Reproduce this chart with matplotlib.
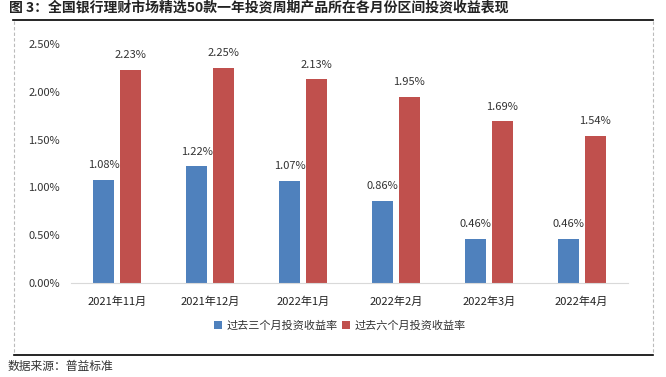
import matplotlib.pyplot as plt
import numpy as np

plt.rcParams['font.family'] = ['Noto Sans CJK SC', 'DejaVu Sans']

# data
months = ['2021年11月', '2021年12月', '2022年1月', '2022年2月', '2022年3月', '2022年4月']
three_month = [1.08, 1.22, 1.07, 0.86, 0.46, 0.46]
six_month = [2.23, 2.25, 2.13, 1.95, 1.69, 1.54]
series_names = ['过去三个月投资收益率', '过去六个月投资收益率']
yticks = [0, 0.5, 1.0, 1.5, 2.0, 2.5]

blue = '#4F81BD'
red = '#C0504D'

fig = plt.figure(figsize=(6.66, 3.77), dpi=100)
W, H = 666, 377

# frame lines around the chart (report style)
fig.add_artist(plt.Line2D([13 / W, 653 / W], [1 - 20 / H, 1 - 20 / H], color='black', lw=1.2))
fig.add_artist(plt.Line2D([14 / W, 653 / W], [1 - 355 / H, 1 - 355 / H], color='black', lw=1.2))
fig.add_artist(plt.Line2D([14 / W, 14 / W], [1 - 21 / H, 1 - 354 / H], color='#BBBBBB', lw=0.8, ls=(0, (3, 2))))
fig.add_artist(plt.Line2D([653 / W, 653 / W], [1 - 21 / H, 1 - 354 / H], color='#BBBBBB', lw=0.8, ls=(0, (3, 2))))

fig.text(9 / W, 1 - 8 / H, '图 3：全国银行理财市场精选50款一年投资周期产品所在各月份区间投资收益表现',
         fontsize=10, fontweight='bold', va='center', ha='left', color='#222222')
fig.text(8 / W, 1 - 366 / H, '数据来源：普益标准', fontsize=8.5, va='center', ha='left', color='#333333')

ax = fig.add_axes([71 / W, 1 - 283 / H, (628 - 71) / W, (283 - 44) / H])

x = np.arange(len(months))
bw = 0.226
gap = 0.065
off = (bw + gap) / 2
b1 = ax.bar(x - off, three_month, bw, color=blue, label=series_names[0])
b2 = ax.bar(x + off, six_month, bw, color=red, label=series_names[1])

for bars in (b1, b2):
    for r in bars:
        v = r.get_height()
        ax.annotate('%.2f%%' % v, (r.get_x() + r.get_width() / 2, v),
                    xytext=(0, 7), textcoords='offset points',
                    ha='center', va='bottom', fontsize=8, color='#333333')

ax.set_xlim(-0.5, len(months) - 0.5)
ax.set_ylim(0, 2.5)
ax.set_yticks(yticks)
ax.set_yticklabels(['%.2f%%' % t for t in yticks], fontsize=8, color='#333333')
ax.set_xticks(x)
ax.set_xticklabels(months, fontsize=8, color='#222222')
ax.tick_params(length=0, pad=10)
ax.tick_params(axis='y', pad=8)
for s in ['top', 'right', 'left']:
    ax.spines[s].set_visible(False)
ax.spines['bottom'].set_color('#D9D9D9')

fig.legend(handles=[b1, b2], labels=series_names, loc='center', bbox_to_anchor=(340 / W, 1 - 326 / H),
           ncol=2, frameon=False, fontsize=8, handlelength=0.7, handleheight=0.7,
           handletextpad=0.4, columnspacing=0.4, labelcolor='#333333')

fig.savefig('out.png', dpi=100)
